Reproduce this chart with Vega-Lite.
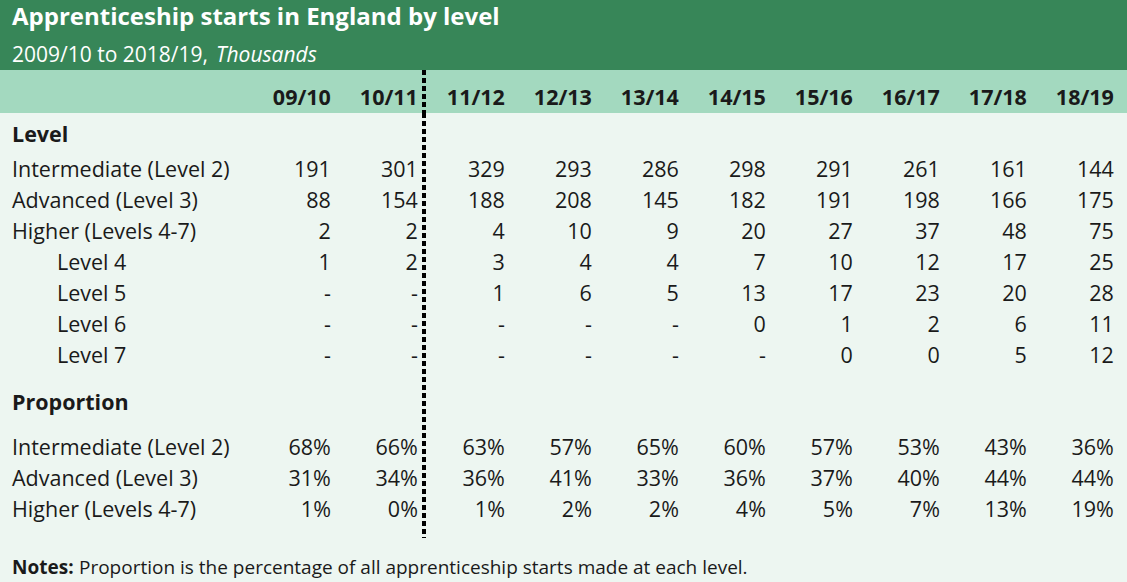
{
  "$schema": "https://vega.github.io/schema/vega-lite/v6.json",
  "background": "#378658",
  "padding": 0,
  "spacing": 0,
  "bounds": "flush",
  "resolve": {"scale": {"x": "independent", "y": "independent"}},
  "config": {
    "view": {"stroke": null},
    "text": {"font": "Open Sans", "fontSize": 21.5, "fill": "#1a1a1a", "baseline": "middle"},
    "rule": {"color": "#000000"}
  },
  "datasets": {
    "years": [
      {"year": "09/10"}, {"year": "10/11"}, {"year": "11/12"}, {"year": "12/13"}, {"year": "13/14"},
      {"year": "14/15"}, {"year": "15/16"}, {"year": "16/17"}, {"year": "17/18"}, {"year": "18/19"}
    ],
    "level": [
      {"row": "Intermediate (Level 2)", "tier": "main", "09/10": 191, "10/11": 301, "11/12": 329, "12/13": 293, "13/14": 286, "14/15": 298, "15/16": 291, "16/17": 261, "17/18": 161, "18/19": 144},
      {"row": "Advanced (Level 3)", "tier": "main", "09/10": 88, "10/11": 154, "11/12": 188, "12/13": 208, "13/14": 145, "14/15": 182, "15/16": 191, "16/17": 198, "17/18": 166, "18/19": 175},
      {"row": "Higher (Levels 4-7)", "tier": "main", "09/10": 2, "10/11": 2, "11/12": 4, "12/13": 10, "13/14": 9, "14/15": 20, "15/16": 27, "16/17": 37, "17/18": 48, "18/19": 75},
      {"row": "Level 4", "tier": "sub", "09/10": 1, "10/11": 2, "11/12": 3, "12/13": 4, "13/14": 4, "14/15": 7, "15/16": 10, "16/17": 12, "17/18": 17, "18/19": 25},
      {"row": "Level 5", "tier": "sub", "09/10": null, "10/11": null, "11/12": 1, "12/13": 6, "13/14": 5, "14/15": 13, "15/16": 17, "16/17": 23, "17/18": 20, "18/19": 28},
      {"row": "Level 6", "tier": "sub", "09/10": null, "10/11": null, "11/12": null, "12/13": null, "13/14": null, "14/15": 0, "15/16": 1, "16/17": 2, "17/18": 6, "18/19": 11},
      {"row": "Level 7", "tier": "sub", "09/10": null, "10/11": null, "11/12": null, "12/13": null, "13/14": null, "14/15": null, "15/16": 0, "16/17": 0, "17/18": 5, "18/19": 12}
    ],
    "proportion": [
      {"row": "Intermediate (Level 2)", "tier": "main", "09/10": 0.68, "10/11": 0.66, "11/12": 0.63, "12/13": 0.57, "13/14": 0.65, "14/15": 0.60, "15/16": 0.57, "16/17": 0.53, "17/18": 0.43, "18/19": 0.36},
      {"row": "Advanced (Level 3)", "tier": "main", "09/10": 0.31, "10/11": 0.34, "11/12": 0.36, "12/13": 0.41, "13/14": 0.33, "14/15": 0.36, "15/16": 0.37, "16/17": 0.40, "17/18": 0.44, "18/19": 0.44},
      {"row": "Higher (Levels 4-7)", "tier": "main", "09/10": 0.01, "10/11": 0.0, "11/12": 0.01, "12/13": 0.02, "13/14": 0.02, "14/15": 0.04, "15/16": 0.05, "16/17": 0.07, "17/18": 0.13, "18/19": 0.19}
    ]
  },
  "vconcat": [
    {
      "width": 1127,
      "height": 70,
      "view": {"fill": "#378658", "stroke": null},
      "data": {"values": [
        {"line": "title", "part": "start", "text": "Apprenticeship starts in England by level"},
        {"line": "subtitle", "part": "start", "text": "2009/10 to 2018/19,"},
        {"line": "subtitle", "part": "after", "text": "Thousands"}
      ]},
      "encoding": {
        "x": {"field": "part", "type": "nominal", "axis": null, "scale": {"type": "point", "domain": ["start", "after"], "range": [12, 216], "padding": 0}},
        "y": {"field": "line", "type": "nominal", "axis": null, "scale": {"type": "point", "domain": ["title", "subtitle"], "range": [18, 56], "padding": 0}},
        "text": {"field": "text"}
      },
      "layer": [
        {"transform": [{"filter": "datum.line === 'title'"}], "mark": {"type": "text", "align": "left", "fontSize": 24, "fontWeight": "bold", "fill": "#ffffff"}},
        {"transform": [{"filter": "datum.line === 'subtitle' && datum.part === 'start'"}], "mark": {"type": "text", "align": "left", "fontSize": 21, "fill": "#ffffff"}},
        {"transform": [{"filter": "datum.part === 'after'"}], "mark": {"type": "text", "align": "left", "fontSize": 21, "fontStyle": "italic", "fill": "#ffffff"}}
      ]
    },
    {
      "width": 1127,
      "height": 43,
      "view": {"fill": "#a3d9bf", "stroke": null},
      "layer": [
        {
          "data": {"name": "years"},
          "mark": {"type": "text", "align": "right", "fontWeight": "bold"},
          "encoding": {
            "x": {"field": "year", "type": "ordinal", "bandPosition": 0.93, "axis": null, "scale": {"type": "band", "domain": ["09/10", "10/11", "11/12", "12/13", "13/14", "14/15", "15/16", "16/17", "17/18", "18/19"], "range": [250, 1120], "paddingInner": 0, "paddingOuter": 0}},
            "y": {"datum": "header", "type": "nominal", "axis": null, "scale": {"type": "point", "domain": ["header"], "range": [28.5, 28.5], "padding": 0}},
            "text": {"field": "year"}
          }
        },
        {
          "data": {"values": [{"break": "11/12"}]},
          "mark": {"type": "rule", "strokeDash": [5, 3], "strokeWidth": 4},
          "encoding": {
            "x": {"field": "break", "type": "ordinal", "bandPosition": 0, "axis": null, "scale": {"type": "band", "domain": ["09/10", "10/11", "11/12", "12/13", "13/14", "14/15", "15/16", "16/17", "17/18", "18/19"], "range": [250, 1120], "paddingInner": 0, "paddingOuter": 0}}
          }
        }
      ]
    },
    {
      "width": 1127,
      "height": 425,
      "view": {"fill": "#edf6f1", "stroke": null},
      "resolve": {"scale": {"x": "independent", "y": "independent"}},
      "layer": [
        {
          "data": {"values": [{"section": "Level"}, {"section": "Proportion"}]},
          "mark": {"type": "text", "align": "left", "fontWeight": "bold"},
          "encoding": {
            "x": {"datum": "main", "type": "nominal", "axis": null, "scale": {"type": "point", "domain": ["main", "sub"], "range": [12, 57], "padding": 0}},
            "y": {"field": "section", "type": "nominal", "axis": null, "scale": {"type": "point", "domain": ["Level", "Proportion"], "range": [23, 290.5], "padding": 0}},
            "text": {"field": "section"}
          }
        },
        {
          "data": {"name": "level"},
          "mark": {"type": "text", "align": "left"},
          "encoding": {
            "x": {"field": "tier", "type": "nominal", "axis": null, "scale": {"type": "point", "domain": ["main", "sub"], "range": [12, 57], "padding": 0}},
            "y": {"field": "row", "type": "nominal", "axis": null, "scale": {"type": "point", "domain": ["Intermediate (Level 2)", "Advanced (Level 3)", "Higher (Levels 4-7)", "Level 4", "Level 5", "Level 6", "Level 7"], "range": [57.5, 244], "padding": 0}},
            "text": {"field": "row"}
          }
        },
        {
          "data": {"name": "level"},
          "transform": [{"fold": ["09/10", "10/11", "11/12", "12/13", "13/14", "14/15", "15/16", "16/17", "17/18", "18/19"], "as": ["year", "starts"]}],
          "mark": {"type": "text", "align": "right"},
          "encoding": {
            "x": {"field": "year", "type": "ordinal", "bandPosition": 0.93, "axis": null, "scale": {"type": "band", "domain": ["09/10", "10/11", "11/12", "12/13", "13/14", "14/15", "15/16", "16/17", "17/18", "18/19"], "range": [250, 1120], "paddingInner": 0, "paddingOuter": 0}},
            "y": {"field": "row", "type": "nominal", "axis": null, "scale": {"type": "point", "domain": ["Intermediate (Level 2)", "Advanced (Level 3)", "Higher (Levels 4-7)", "Level 4", "Level 5", "Level 6", "Level 7"], "range": [57.5, 244], "padding": 0}},
            "text": {"condition": {"test": "datum.starts === null", "value": "-"}, "field": "starts", "type": "quantitative", "format": "d"}
          }
        },
        {
          "data": {"name": "proportion"},
          "mark": {"type": "text", "align": "left"},
          "encoding": {
            "x": {"field": "tier", "type": "nominal", "axis": null, "scale": {"type": "point", "domain": ["main", "sub"], "range": [12, 57], "padding": 0}},
            "y": {"field": "row", "type": "nominal", "axis": null, "scale": {"type": "point", "domain": ["Intermediate (Level 2)", "Advanced (Level 3)", "Higher (Levels 4-7)"], "range": [336, 397.5], "padding": 0}},
            "text": {"field": "row"}
          }
        },
        {
          "data": {"name": "proportion"},
          "transform": [{"fold": ["09/10", "10/11", "11/12", "12/13", "13/14", "14/15", "15/16", "16/17", "17/18", "18/19"], "as": ["year", "share"]}],
          "mark": {"type": "text", "align": "right"},
          "encoding": {
            "x": {"field": "year", "type": "ordinal", "bandPosition": 0.93, "axis": null, "scale": {"type": "band", "domain": ["09/10", "10/11", "11/12", "12/13", "13/14", "14/15", "15/16", "16/17", "17/18", "18/19"], "range": [250, 1120], "paddingInner": 0, "paddingOuter": 0}},
            "y": {"field": "row", "type": "nominal", "axis": null, "scale": {"type": "point", "domain": ["Intermediate (Level 2)", "Advanced (Level 3)", "Higher (Levels 4-7)"], "range": [336, 397.5], "padding": 0}},
            "text": {"field": "share", "type": "quantitative", "format": ".0%"}
          }
        },
        {
          "data": {"values": [{"break": "11/12"}]},
          "mark": {"type": "rule", "strokeDash": [5, 3], "strokeWidth": 4},
          "encoding": {
            "x": {"field": "break", "type": "ordinal", "bandPosition": 0, "axis": null, "scale": {"type": "band", "domain": ["09/10", "10/11", "11/12", "12/13", "13/14", "14/15", "15/16", "16/17", "17/18", "18/19"], "range": [250, 1120], "paddingInner": 0, "paddingOuter": 0}}
          }
        }
      ]
    },
    {
      "width": 1127,
      "height": 44,
      "view": {"fill": "#edf6f1", "stroke": null},
      "data": {"values": [
        {"part": "label", "text": "Notes:"},
        {"part": "body", "text": "Proportion is the percentage of all apprenticeship starts made at each level."}
      ]},
      "encoding": {
        "x": {"field": "part", "type": "nominal", "axis": null, "scale": {"type": "point", "domain": ["label", "body"], "range": [12, 79], "padding": 0}},
        "y": {"datum": "notes", "type": "nominal", "axis": null, "scale": {"type": "point", "domain": ["notes"], "range": [29.5, 29.5], "padding": 0}},
        "text": {"field": "text"}
      },
      "layer": [
        {"transform": [{"filter": "datum.part === 'label'"}], "mark": {"type": "text", "align": "left", "fontSize": 19, "fontWeight": "bold"}},
        {"transform": [{"filter": "datum.part === 'body'"}], "mark": {"type": "text", "align": "left", "fontSize": 19}}
      ]
    }
  ]
}
